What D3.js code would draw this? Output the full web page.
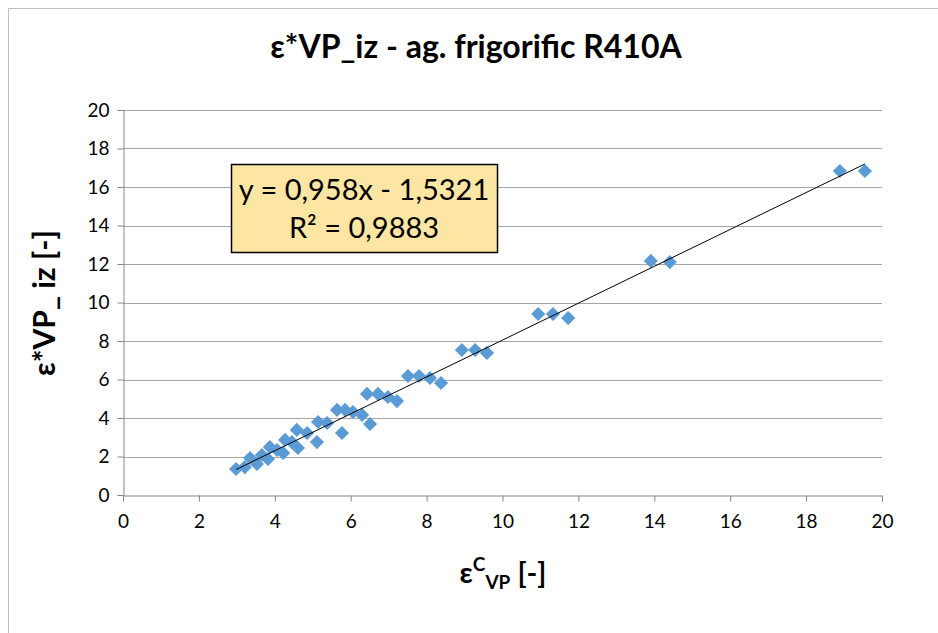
<!DOCTYPE html>
<html>
<head>
<meta charset="utf-8">
<script src="https://cdn.jsdelivr.net/npm/d3@7"></script>
<style>
  body { margin: 0; background: #fff; }
  text { font-family: Lato, "Open Sans", sans-serif; fill: #000; }
</style>
</head>
<body>
<div id="chart"></div>
<script>
// values
const epsC = [2.98, 3.21, 3.35, 3.53, 3.66, 3.87, 3.82, 4.06, 4.22, 4.27, 4.45, 4.58, 4.61, 4.85,
  5.11, 5.14, 5.38, 5.64, 5.77, 5.85, 6.06, 6.30, 6.43, 6.51, 6.72, 6.98, 7.22, 7.51, 7.80,
  8.09, 8.38, 8.93, 9.28, 9.59, 10.94, 11.33, 11.73, 13.91, 14.41, 18.89, 19.55];
const epsIz = [1.35, 1.45, 1.92, 1.61, 2.08, 2.49, 1.87, 2.34, 2.18, 2.86, 2.75, 3.38, 2.44, 3.22,
  2.75, 3.79, 3.74, 4.42, 3.22, 4.42, 4.31, 4.16, 5.25, 3.69, 5.25, 5.09, 4.88, 6.18, 6.18,
  6.08, 5.82, 7.53, 7.53, 7.38, 9.40, 9.40, 9.19, 12.16, 12.10, 16.83, 16.83];
const xTicks = [0, 2, 4, 6, 8, 10, 12, 14, 16, 18, 20];
const yTicks = [0, 2, 4, 6, 8, 10, 12, 14, 16, 18, 20];
const slope = 0.958;
const intercept = -1.5321;
const eqLines = ["y = 0,958x - 1,5321", "R² = 0,9883"];

const W = 938, H = 633;
const margin = { top: 110, right: 56, bottom: 138, left: 123 };
const width = W - margin.left - margin.right;
const height = H - margin.top - margin.bottom;

const svg = d3.select("#chart").append("svg")
  .attr("width", W)
  .attr("height", H);

// chart frame
svg.append("rect")
  .attr("x", 8.5).attr("y", 8.5)
  .attr("width", 940).attr("height", 640)
  .attr("fill", "none")
  .attr("stroke", "#bfbfbf");

const g = svg.append("g")
  .attr("transform", `translate(${margin.left},${margin.top})`);

const x = d3.scaleLinear().domain([0, 20]).range([0, width]);
const y = d3.scaleLinear().domain([0, 20]).range([height, 0]);

// gridlines
g.selectAll(".grid")
  .data(yTicks.slice(1))
  .enter().append("line")
  .attr("x1", 0).attr("x2", width)
  .attr("y1", d => Math.round(y(d)) + 0.5)
  .attr("y2", d => Math.round(y(d)) + 0.5)
  .attr("stroke", "#a6a6a6");

// axes
const xAxis = g.append("g")
  .attr("transform", `translate(0,${Math.round(height) + 0.5})`)
  .call(d3.axisBottom(x).tickValues(xTicks).tickSize(6).tickPadding(13));
const yAxis = g.append("g")
  .attr("transform", "translate(0.5,0)")
  .call(d3.axisLeft(y).tickValues(yTicks).tickSize(6).tickPadding(8));

[xAxis, yAxis].forEach(a => {
  a.select(".domain").attr("stroke", "#868686");
  a.selectAll(".tick line").attr("stroke", "#868686");
  a.selectAll(".tick text").attr("font-size", 19).attr("font-family", "Lato, sans-serif");
});

// points
const pts = epsC.map((v, i) => ({ x: v, y: epsIz[i] }));
g.selectAll(".pt")
  .data(pts)
  .enter().append("path")
  .attr("class", "pt")
  .attr("d", d3.symbol().type(d3.symbolSquare).size(100))
  .attr("transform", d => `translate(${x(d.x)},${y(d.y)}) rotate(45)`)
  .attr("fill", "#5b9bd5");

// trend line
const xMin = d3.min(epsC), xMax = d3.max(epsC);
g.append("line")
  .attr("x1", x(xMin)).attr("y1", y(slope * xMin + intercept))
  .attr("x2", x(xMax)).attr("y2", y(slope * xMax + intercept))
  .attr("stroke", "#000")
  .attr("stroke-width", 1);

// equation label
svg.append("rect")
  .attr("x", 231.5).attr("y", 164.5)
  .attr("width", 266).attr("height", 88)
  .attr("fill", "#fde6a4")
  .attr("stroke", "#000")
  .attr("stroke-width", 1.5);
svg.selectAll(".eq")
  .data(eqLines)
  .enter().append("text")
  .attr("x", 364)
  .attr("y", (d, i) => 200 + i * 38)
  .attr("text-anchor", "middle")
  .attr("font-size", 29)
  .text(d => d);

// title
svg.append("text")
  .attr("x", 476).attr("y", 58)
  .attr("text-anchor", "middle")
  .attr("font-size", 32)
  .attr("font-weight", "bold")
  .text("ε*VP_iz - ag. frigorific R410A");

// y title
svg.append("text")
  .attr("transform", "translate(55,303) rotate(-90)")
  .attr("text-anchor", "middle")
  .attr("font-size", 30)
  .attr("font-weight", "bold")
  .text("ε*VP_ iz [-]");

// x title with super/subscript
const xt = svg.append("text")
  .attr("x", 503).attr("y", 583)
  .attr("text-anchor", "middle")
  .attr("font-size", 29)
  .attr("font-weight", "bold");
xt.append("tspan").text("ε");
xt.append("tspan").attr("font-size", 19).attr("dy", -12).text("C");
xt.append("tspan").attr("font-size", 19).attr("dy", 18).text("VP");
xt.append("tspan").attr("dy", -6).text(" [-]");
</script>
</body>
</html>
